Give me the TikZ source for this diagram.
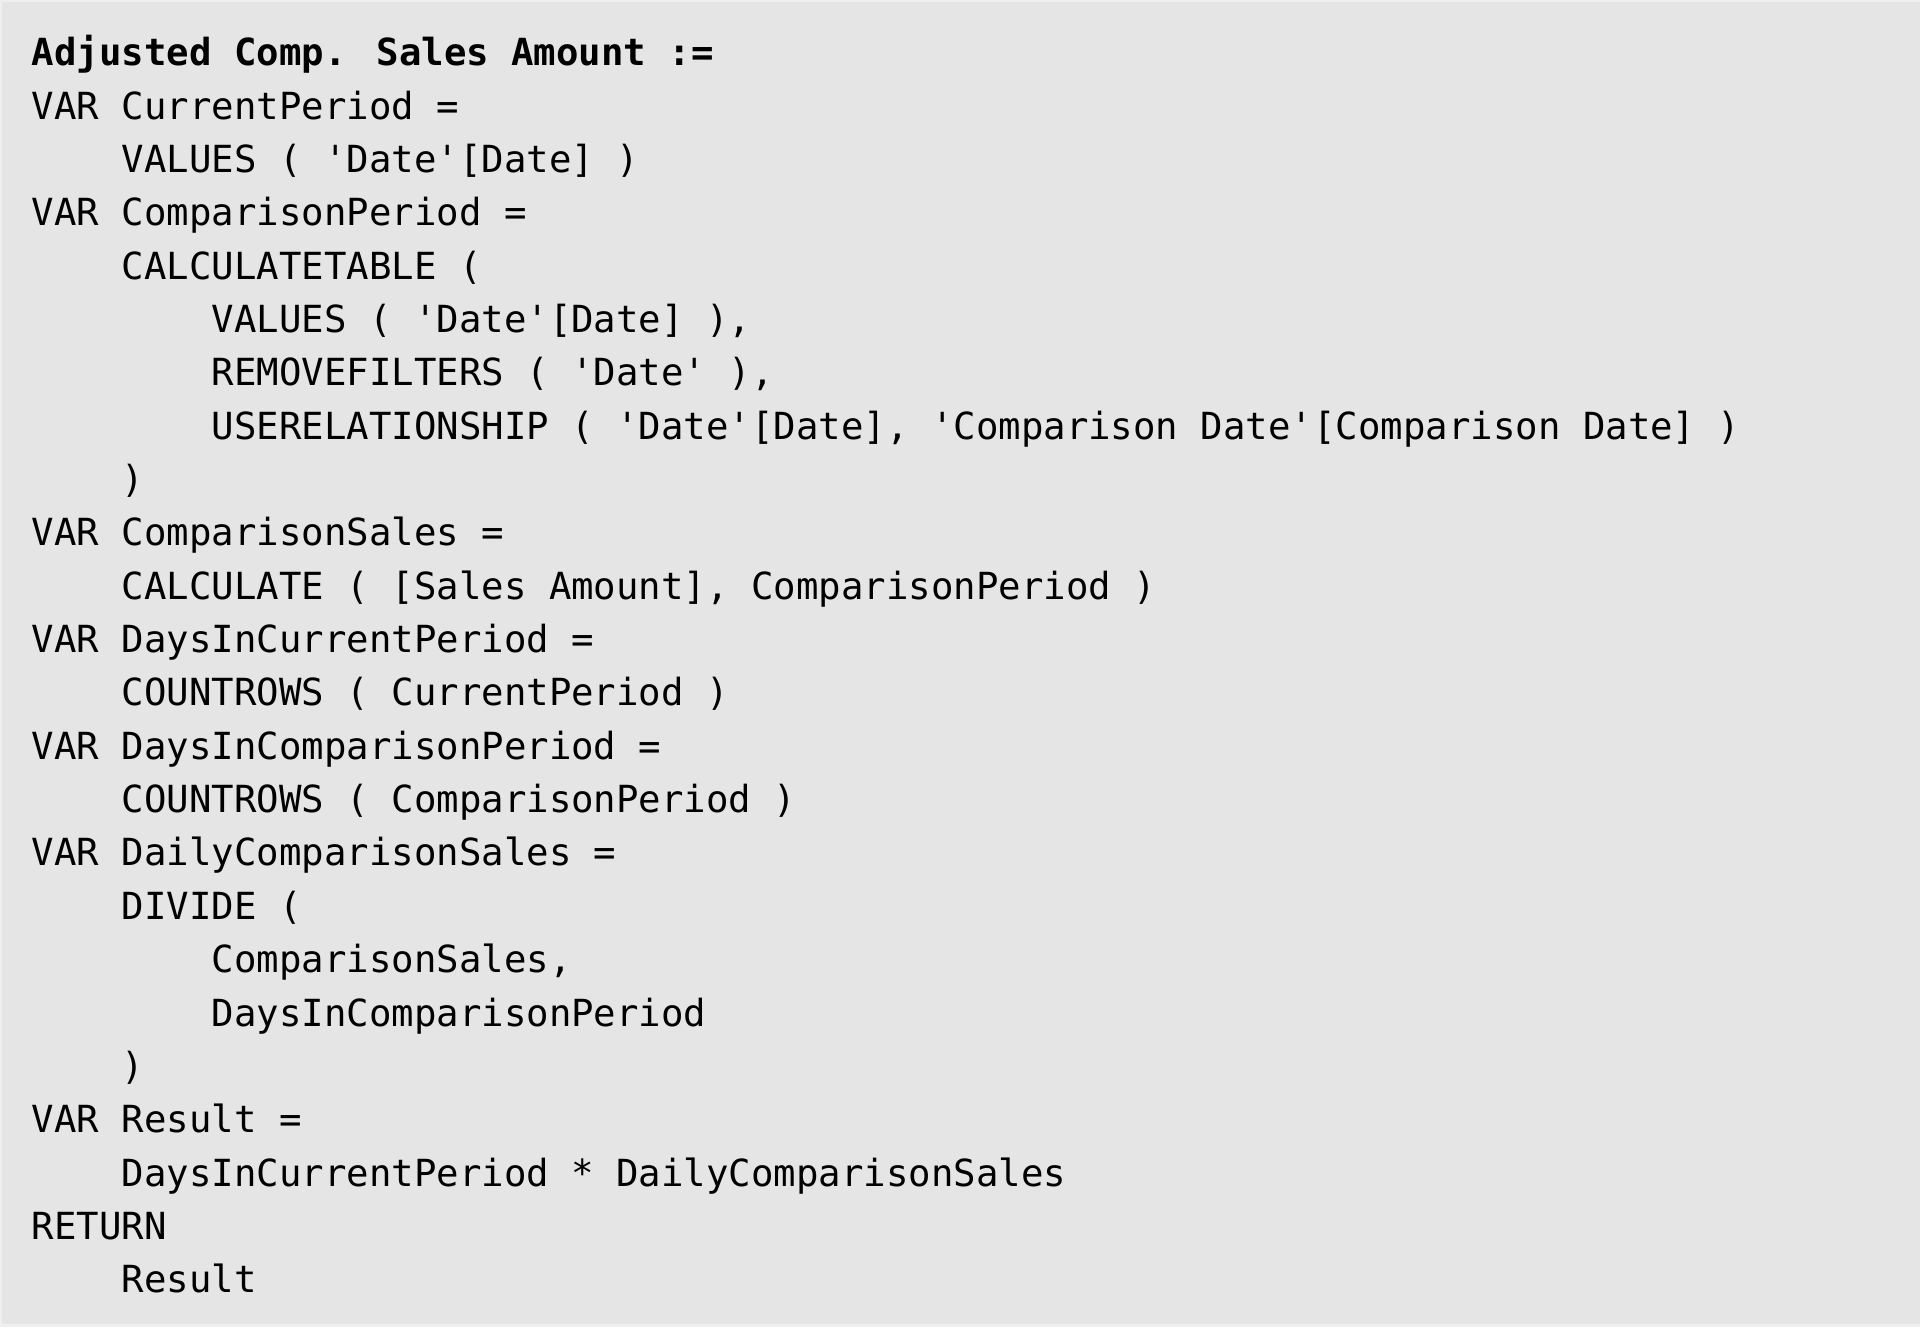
\documentclass[tikz,border=0pt]{standalone}
\usepackage{fontspec}
\newfontfamily\codefont{DejaVu Sans Mono}
\definecolor{edgegray}{HTML}{EFEFEF}
\definecolor{panelgray}{HTML}{E5E5E5}
\definecolor{codeink}{HTML}{000000}
\tikzset{
  codeline/.style={anchor=base west, inner sep=0pt, outer sep=0pt, text=codeink,
    font=\codefont\fontsize{18.67pt}{20pt}\selectfont},
  titleline/.style={codeline, font=\codefont\bfseries\fontsize{18.67pt}{20pt}\selectfont}
}
\begin{document}
\begin{tikzpicture}[x=1pt,y=1pt]
\useasboundingbox (0,0) rectangle (960,-663.5);
\fill[edgegray] (0,0) rectangle (960,-663.5);
\fill[panelgray] (1,-1) rectangle (960,-661.8);
\def\lh{26.675}
\def\ind{44.96}
\def\xo{16}
\def\yo{-32.85}
\node[titleline] (l0)  at (\xo, \yo-0*\lh) {Adjusted Comp. Sales Amount :=};
\node[codeline]  (l1)  at (\xo, \yo-1*\lh) {VAR CurrentPeriod =};
\node[codeline]  (l2)  at (\xo+\ind, \yo-2*\lh) {VALUES ( 'Date'[Date] )};
\node[codeline]  (l3)  at (\xo, \yo-3*\lh) {VAR ComparisonPeriod =};
\node[codeline]  (l4)  at (\xo+\ind, \yo-4*\lh) {CALCULATETABLE (};
\node[codeline]  (l5)  at (\xo+2*\ind, \yo-5*\lh) {VALUES ( 'Date'[Date] ),};
\node[codeline]  (l6)  at (\xo+2*\ind, \yo-6*\lh) {REMOVEFILTERS ( 'Date' ),};
\node[codeline]  (l7)  at (\xo+2*\ind, \yo-7*\lh) {USERELATIONSHIP ( 'Date'[Date], 'Comparison Date'[Comparison Date] )};
\node[codeline]  (l8)  at (\xo+\ind, \yo-8*\lh) {)};
\node[codeline]  (l9)  at (\xo, \yo-9*\lh) {VAR ComparisonSales =};
\node[codeline]  (l10) at (\xo+\ind, \yo-10*\lh) {CALCULATE ( [Sales Amount], ComparisonPeriod )};
\node[codeline]  (l11) at (\xo, \yo-11*\lh) {VAR DaysInCurrentPeriod =};
\node[codeline]  (l12) at (\xo+\ind, \yo-12*\lh) {COUNTROWS ( CurrentPeriod )};
\node[codeline]  (l13) at (\xo, \yo-13*\lh) {VAR DaysInComparisonPeriod =};
\node[codeline]  (l14) at (\xo+\ind, \yo-14*\lh) {COUNTROWS ( ComparisonPeriod )};
\node[codeline]  (l15) at (\xo, \yo-15*\lh) {VAR DailyComparisonSales =};
\node[codeline]  (l16) at (\xo+\ind, \yo-16*\lh) {DIVIDE (};
\node[codeline]  (l17) at (\xo+2*\ind, \yo-17*\lh) {ComparisonSales,};
\node[codeline]  (l18) at (\xo+2*\ind, \yo-18*\lh) {DaysInComparisonPeriod};
\node[codeline]  (l19) at (\xo+\ind, \yo-19*\lh) {)};
\node[codeline]  (l20) at (\xo, \yo-20*\lh) {VAR Result =};
\node[codeline]  (l21) at (\xo+\ind, \yo-21*\lh) {DaysInCurrentPeriod * DailyComparisonSales};
\node[codeline]  (l22) at (\xo, \yo-22*\lh) {RETURN};
\node[codeline]  (l23) at (\xo+\ind, \yo-23*\lh) {Result};
\end{tikzpicture}
\end{document}
